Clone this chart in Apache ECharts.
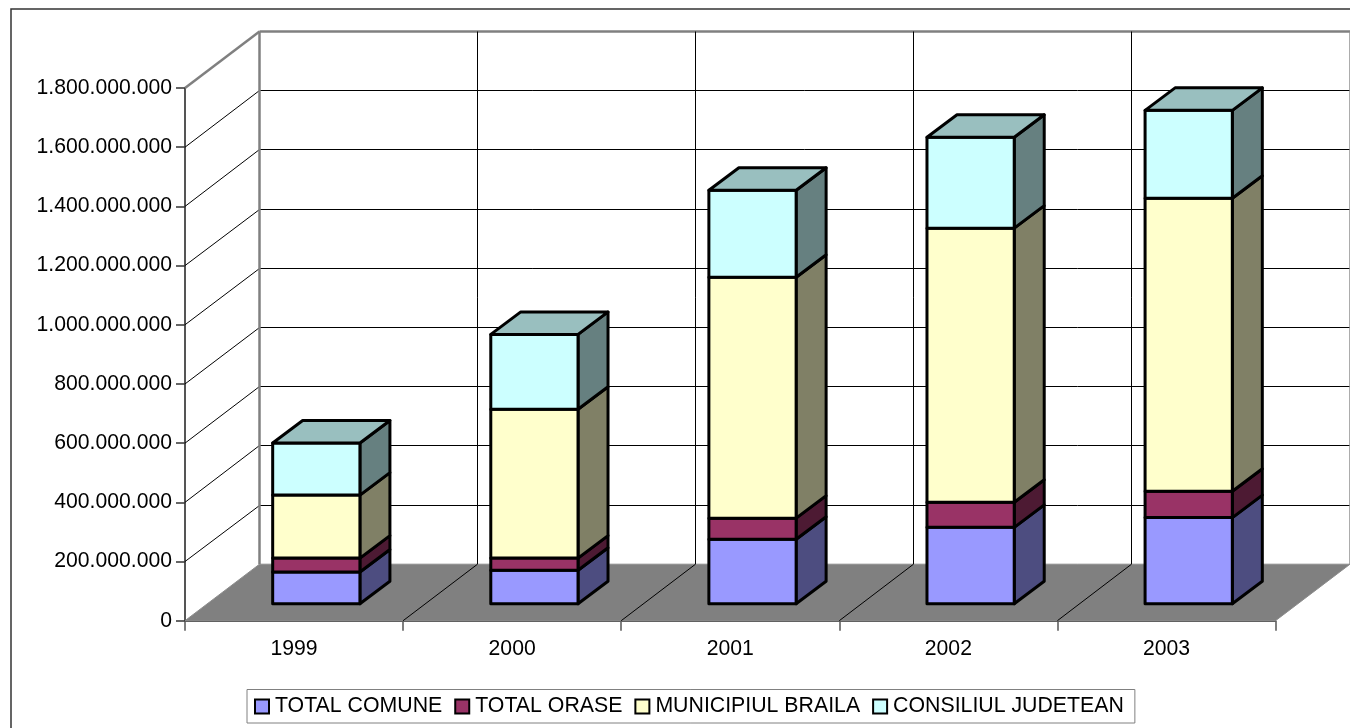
<!DOCTYPE html>
<html><head><meta charset="utf-8">
<style>html,body{margin:0;padding:0;background:#fff}#c{width:1350px;height:728px}</style>
<script src="https://cdn.jsdelivr.net/npm/echarts@6/dist/echarts.min.js"></script>
</head><body><div id="c"></div>
<script>
const categories = ['1999','2000','2001','2002','2003'];
const totalComune = [107e6,113e6,218e6,258e6,291e6];
const totalOrase = [47e6,41e6,71e6,85e6,89e6];
const municipiulBraila = [213e6,503e6,814e6,926e6,990e6];
const consiliulJudetean = [176e6,253e6,294e6,307e6,297e6];
const yTicks = [0,2e8,4e8,6e8,8e8,1e9,12e8,14e8,16e8,18e8];

const DX = 74.5, DY = -56.5;        // depth of the 3D box
const BDX = 30, BDY = -22.5;        // depth of a bar
const OX = (DX-BDX)/2, OY = -17;
const BAR = 0.4;

const stacks = [
  {name:'TOTAL COMUNE', data:totalComune, front:'#9999FF', side:'#4D4D80', top:'#7A7ACC'},
  {name:'TOTAL ORASE', data:totalOrase, front:'#993366', side:'#4D1A33', top:'#7A2952'},
  {name:'MUNICIPIUL BRAILA', data:municipiulBraila, front:'#FFFFCC', side:'#808066', top:'#BFBF99'},
  {name:'CONSILIUL JUDETEAN', data:consiliulJudetean, front:'#CCFFFF', side:'#668080', top:'#99BFBF'}
];

const crisp = v => Math.floor(v)+0.5;
const poly = (pts, fill, lw) => ({type:'polygon', shape:{points:pts},
  style:{fill, stroke:'#000', lineWidth:lw, lineJoin:'round'}});
const line = (a,b,color,lw) => ({type:'line', shape:{x1:a[0],y1:a[1],x2:b[0],y2:b[1]},
  style:{stroke:color, lineWidth:lw, fill:null}});

const nCat = categories.length;
const wallSeries = {
  type:'custom', silent:true, z:1, data:yTicks.map(v=>[0,v]), encode:{x:0,y:1},
  renderItem(p, api){
    const v = api.value(1), a = api.coord([0,v]);
    const w = api.size([1,0])[0], left = a[0]-w/2, right = left + w*nCat;
    if (v === 0) return {type:'group', children:[]};
    const top = v === yTicks[yTicks.length-1];
    const c = top ? '#808080' : '#000', lw = top ? 2.5 : 1;
    const by = top ? a[1]+DY : crisp(a[1]+DY);
    return {type:'group', children:[
      line([left,a[1]],[left+DX,by],c,lw),
      line([left+DX,by],[right+DX,by],c,lw)
    ]};
  }
};
const floorSeries = {
  type:'custom', silent:true, z:2, data:[[0,0]], encode:{x:0,y:1},
  renderItem(p, api){
    const a = api.coord([0,0]), w = api.size([1,0])[0];
    const left = a[0]-w/2, right = left + w*nCat, top = api.coord([0,yTicks[yTicks.length-1]]);
    return {type:'group', children:[
      {type:'polygon', shape:{points:[[left,a[1]],[right,a[1]],[right+DX,a[1]+DY],[left+DX,a[1]+DY]]},
        style:{fill:'#808080', stroke:'#8c8c8c', lineWidth:1}},
      line([left+DX,a[1]+DY],[left+DX,top[1]+DY],'#808080',2.5),
      line([right+DX,a[1]+DY],[right+DX,top[1]+DY],'#909090',1.5)
    ]};
  }
};
const dividerSeries = {
  type:'custom', silent:true, z:3, data:categories.slice(1).map((c,i)=>[i+1,0]), encode:{x:0,y:1},
  renderItem(p, api){
    const c = api.coord([api.value(0),0]), w = api.size([1,0])[0];
    const top = api.coord([0,yTicks[yTicks.length-1]]);
    const x = c[0]-w/2, bx = crisp(x+DX);
    return {type:'group', children:[
      line([x,c[1]],[bx,c[1]+DY],'#000',1),
      line([bx,c[1]+DY],[bx,top[1]+DY],'#000',1)
    ]};
  }
};

const barSeries = stacks.map((s, si) => {
  const rows = s.data.map((v,i)=>{
    let low = 0; for (let k=0;k<si;k++) low += stacks[k].data[i];
    return [i, low, low+v];
  });
  return {
    type:'custom', name:s.name, z:5+si, data:rows, encode:{x:0,y:[1,2]},
    itemStyle:{color:s.front, borderColor:'#000', borderWidth:2.5},
    renderItem(p, api){
      const lo = api.coord([api.value(0),api.value(1)]);
      const hi = api.coord([api.value(0),api.value(2)]);
      const w = api.size([1,0])[0], bw = w*BAR;
      const x0 = lo[0]-bw/2+OX, x1 = x0+bw, y0 = lo[1]+OY, y1 = hi[1]+OY;
      const ch = [
        poly([[x1,y0],[x1+BDX,y0+BDY],[x1+BDX,y1+BDY],[x1,y1]], s.side, 3),
        poly([[x0,y0],[x1,y0],[x1,y1],[x0,y1]], s.front, 3)
      ];
      if (si === stacks.length-1)
        ch.push(poly([[x0,y1],[x1,y1],[x1+BDX,y1+BDY],[x0+BDX,y1+BDY]], s.top, 3));
      return {type:'group', children:ch};
    }
  };
});

const dots = v => String(v).replace(/\B(?=(\d{3})+$)/g,'.');
const chart = echarts.init(document.getElementById('c'), null, {renderer:'canvas'});
chart.setOption({
  animation:false,
  backgroundColor:'#fff',
  textStyle:{fontFamily:'Liberation Sans'},
  graphic:[{type:'rect', z:-1, shape:{x:11,y:9,width:1400,height:800},
    style:{fill:'none',stroke:'#333',lineWidth:1.5}}],
  grid:{left:185, top:88, width:1090.5, height:532.7},
  legend:{
    left:247, top:689.5, padding:[6.5,11,6,7], itemGap:12, itemWidth:14, itemHeight:14,
    backgroundColor:'#fff', borderColor:'#808080', borderWidth:1, selectedMode:false,
    icon:'rect', data:stacks.map(s=>s.name),
    textStyle:{fontSize:21.3, color:'#000', fontFamily:'Liberation Sans', padding:[3,0,0,1]}
  },
  xAxis:{type:'category', data:categories, boundaryGap:true,
    axisLine:{lineStyle:{color:'#222',width:1.5}},
    axisTick:{show:true,alignWithLabel:false,length:10,lineStyle:{color:'#555',width:1.5}},
    axisLabel:{color:'#000',fontSize:21.2,margin:18,fontFamily:'Liberation Sans'},
    splitLine:{show:false}},
  yAxis:{type:'value', min:0, max:18e8, interval:2e8,
    axisLine:{show:true,lineStyle:{color:'#555',width:2}},
    axisTick:{show:true,length:9,lineStyle:{color:'#333',width:1.5}},
    axisLabel:{color:'#000',fontSize:21.2,margin:13,formatter:dots,fontFamily:'Liberation Sans',padding:[3,0,0,0]},
    splitLine:{show:false}},
  series:[wallSeries,floorSeries,dividerSeries,...barSeries]
});
</script></body></html>
